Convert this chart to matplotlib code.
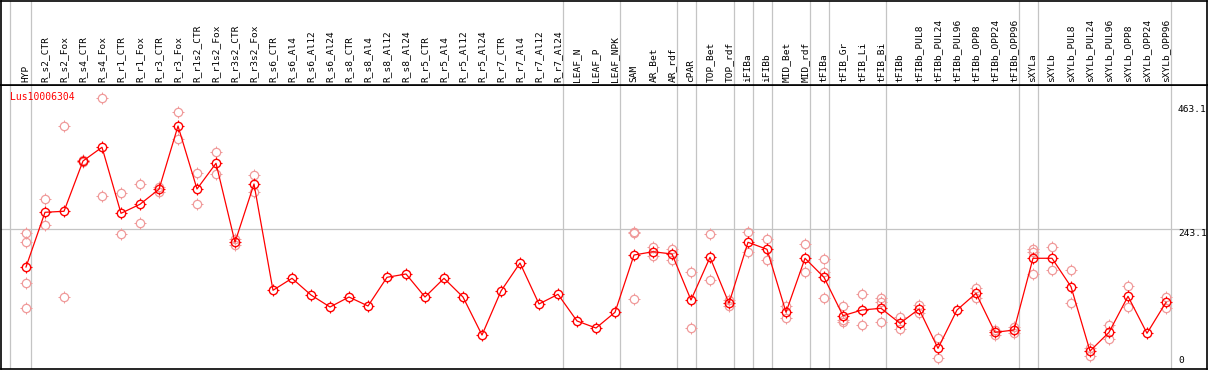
import matplotlib

matplotlib.use("Agg")
import matplotlib.pyplot as plt
import numpy as np
from matplotlib.path import Path

# -------------------------------------
# Data
# -------------------------------------

GENE = "Lus10006304"

CATEGORIES = [
    "HYP",
    "R_s2_CTR", "R_s2_Fox", "R_s4_CTR", "R_s4_Fox", "R_r1_CTR", "R_r1_Fox",
    "R_r3_CTR", "R_r3_Fox", "R_r1s2_CTR", "R_r1s2_Fox", "R_r3s2_CTR",
    "R_r3s2_Fox", "R_s6_CTR", "R_s6_Al4", "R_s6_Al12", "R_s6_Al24",
    "R_s8_CTR", "R_s8_Al4", "R_s8_Al12", "R_s8_Al24", "R_r5_CTR", "R_r5_Al4",
    "R_r5_Al12", "R_r5_Al24", "R_r7_CTR", "R_r7_Al4", "R_r7_Al12", "R_r7_Al24",
    "LEAF_N", "LEAF_P", "LEAF_NPK",
    "SAM", "AR_Bet", "AR_rdf",
    "cPAR",
    "TOP_Bet", "TOP_rdf",
    "iFIBa",
    "iFIBb",
    "MID_Bet", "MID_rdf",
    "tFIBa",
    "tFIB_Gr", "tFIB_Li", "tFIB_Bi",
    "tFIBb", "tFIBb_PUL8", "tFIBb_PUL24", "tFIBb_PUL96", "tFIBb_OPP8",
    "tFIBb_OPP24", "tFIBb_OPP96",
    "sXYLa",
    "sXYLb", "sXYLb_PUL8", "sXYLb_PUL24", "sXYLb_PUL96", "sXYLb_OPP8",
    "sXYLb_OPP24", "sXYLb_OPP96",
]

# sample groups, separated by vertical lines
GROUP_SIZES = [1, 28, 3, 3, 1, 2, 1, 1, 2, 1, 3, 7, 1, 7]

MEANS = [
    174.6,
    272.0, 273.8, 363.4, 387.8, 270.2, 286.3, 313.0, 425.7, 313.5, 359.3,
    218.6, 322.4, 133.1, 154.4, 124.7, 103.3, 121.1, 105.1, 156.2, 162.1,
    121.1, 154.4, 121.1, 53.4, 131.8, 181.7, 108.7, 125.9,
    78.4, 65.9, 93.9,
    195.9, 201.8, 197.7,
    115.8,
    191.8, 109.9,
    218.6,
    206.1,
    93.9, 190.1,
    156.2,
    87.8, 98.0, 101.0,
    74.3, 99.7, 29.7, 98.0, 127.7, 58.2, 62.3,
    190.1,
    190.1, 139.5, 24.9, 58.2, 122.4, 56.5, 111.7,
]

REPLICATES = [
    [234.6, 218.6, 145.5, 101.0],
    [295.2, 248.8], [425.2, 120.6], [362.0, 365.0], [475.1, 300.5],
    [305.8, 232.8], [321.9, 252.4], [317.0, 309.0], [450.1, 402.0],
    [341.5, 286.3], [378.9, 339.7], [223.9, 213.2], [338.4, 307.6],
    [], [], [], [], [], [], [], [], [], [], [], [], [], [], [], [],
    [], [], [],
    [236.4, 234.6, 117.6], [210.7, 194.2], [206.6, 187.0],
    [165.1, 65.9],
    [232.8, 150.9], [115.8, 105.1],
    [236.4, 200.7],
    [223.9, 186.5],
    [105.1, 83.2], [215.0, 165.1],
    [188.3, 165.1, 118.8],
    [105.1, 80.2, 76.6], [125.9, 70.7], [119.9, 111.7, 76.6],
    [86.0, 63.6], [106.9, 92.1], [47.6, 11.9], [], [137.7, 118.8],
    [53.4, 63.0], [68.2, 57.5],
    [206.1, 201.8, 162.0],
    [209.7, 169.2], [169.2, 109.9], [29.7, 16.6], [70.7, 45.8],
    [141.3, 102.8], [], [120.6, 102.1],
]

Y_LABELS = [463.1, 243.1, 0]
MID_LINE = 243.1

# -------------------------------------
# Plotting
# -------------------------------------

plt.rcParams["font.family"] = "DejaVu Sans Mono"

W, H = 1209, 370
fig = plt.figure(figsize=(W / 100, H / 100), dpi=100)

header_px = 85
ax = fig.add_axes([1 / W, 1 / H, 1206 / W, (H - 1 - header_px) / H])
hax = fig.add_axes([1 / W, (H - header_px) / H, 1206 / W, (header_px - 0.5) / H])

x = np.arange(len(CATEGORIES))
xlim = (-25 / 19, 1181 / 19)
for a in (ax, hax):
    a.set_xlim(*xlim)
    a.set_xticks([])
    a.set_yticks([])
    for s in a.spines.values():
        s.set_linewidth(1.2)
        s.set_color("black")
ax.set_ylim(-7.1, 498.7)
hax.set_ylim(0, 1)

# group separators
ends = np.cumsum(GROUP_SIZES) - 1
seps = [-0.82] + [e + 0.25 for e in ends]
for a in (ax, hax):
    for s in seps:
        a.axvline(s, color="#c4c4c4", lw=0.9, zorder=0)
ax.axhline(MID_LINE, color="#c4c4c4", lw=0.9, zorder=0)

# four short ticks around each circle
tip = 1.35
ticks = Path(
    [[1, 0], [tip, 0], [-1, 0], [-tip, 0], [0, 1], [0, tip], [0, -1], [0, -tip]],
    [Path.MOVETO, Path.LINETO] * 4,
)
ring_ms = 6.0
tick_ms = ring_ms * tip


def target(xs, ys, color, lw, z):
    ax.plot(xs, ys, linestyle="none", marker="o", markersize=ring_ms,
            markerfacecolor="none", markeredgecolor=color,
            markeredgewidth=lw, zorder=z)
    ax.plot(xs, ys, linestyle="none", marker=ticks, markersize=tick_ms,
            markeredgecolor=color, markeredgewidth=lw * 0.8, zorder=z)


for i, reps in enumerate(REPLICATES):
    if reps:
        target([x[i]] * len(reps), reps, "#f09a9a", 0.9, 2)

ax.plot(x, MEANS, color="red", lw=0.9, zorder=3)
target(x, MEANS, "red", 1.0, 3)

ax.text(9 / 1206, 1 - 7 / 284, GENE, transform=ax.transAxes, color="red",
        fontsize=7, ha="left", va="top")

# value labels in the right column
trans = ax.get_yaxis_transform()
for v in Y_LABELS:
    ax.text(1177 / 1206, v, f"{v:g}", transform=trans, fontsize=6.8,
            ha="left", va="bottom" if v == 0 else "top")

# rotated sample names in the header
htrans = hax.get_xaxis_transform()
for i, name in enumerate(CATEGORIES):
    hax.text(x[i], 3 / 85, name, transform=htrans, rotation=90, fontsize=6.8,
             ha="center", va="bottom")

fig.savefig("out.png", dpi=100)
